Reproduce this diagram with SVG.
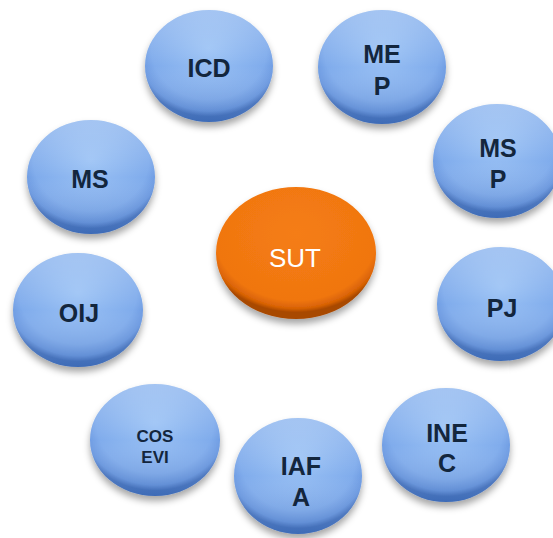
<svg xmlns="http://www.w3.org/2000/svg" width="553" height="538" viewBox="0 0 553 538">
<defs>
<radialGradient id="blue" cx="0.5" cy="0.35" r="0.6">
<stop offset="0" stop-color="#9cc3f5"/>
<stop offset="0.75" stop-color="#80acec"/>
<stop offset="0.92" stop-color="#6a98e0"/>
<stop offset="1" stop-color="#4a76c0"/>
</radialGradient>
<linearGradient id="blueLin" x1="0" y1="0" x2="0" y2="1">
<stop offset="0" stop-color="#ffffff" stop-opacity="0.25"/>
<stop offset="0.5" stop-color="#ffffff" stop-opacity="0"/>
<stop offset="1" stop-color="#1a4a9a" stop-opacity="0.25"/>
</linearGradient>
<radialGradient id="orange" cx="0.5" cy="0.35" r="0.6">
<stop offset="0" stop-color="#f57d14"/>
<stop offset="0.85" stop-color="#f07610"/>
<stop offset="0.95" stop-color="#d86205"/>
<stop offset="1" stop-color="#a84800"/>
</radialGradient>
<filter id="sh" x="-20%" y="-20%" width="140%" height="150%">
<feDropShadow dx="0" dy="5" stdDeviation="3.5" flood-color="#000" flood-opacity="0.35"/>
</filter>
</defs>
<style>
.b{fill:url(#blue);filter:url(#sh)}
.h{fill:url(#blueLin)}
.o{fill:url(#orange);filter:url(#sh)}
.t{font-family:"Liberation Sans",Arial,sans-serif;font-weight:bold;font-size:25px;fill:#13263d;text-anchor:middle}
.s{font-size:17px}
.w{font-family:"Liberation Sans",Arial,sans-serif;font-size:26px;fill:#ffffff;text-anchor:middle}
</style>
<rect width="553" height="538" fill="#ffffff"/>
<g id="connectors"></g>
<g id="ICD"><ellipse class="b" cx="209" cy="66" rx="64" ry="56"/><ellipse class="h" cx="209" cy="66" rx="64" ry="56"/><text class="t" x="209" y="77">ICD</text></g>
<g id="MEP"><ellipse class="b" cx="382" cy="67" rx="64" ry="57"/><ellipse class="h" cx="382" cy="67" rx="64" ry="57"/><text class="t" x="382" y="63">ME</text><text class="t" x="382" y="95">P</text></g>
<g id="MSP"><ellipse class="b" cx="497" cy="161" rx="64" ry="57"/><ellipse class="h" cx="497" cy="161" rx="64" ry="57"/><text class="t" x="498" y="157">MS</text><text class="t" x="498" y="188">P</text></g>
<g id="MS"><ellipse class="b" cx="91" cy="177" rx="64" ry="57"/><ellipse class="h" cx="91" cy="177" rx="64" ry="57"/><text class="t" x="90" y="188">MS</text></g>
<g id="SUT"><ellipse class="o" cx="296" cy="253" rx="80" ry="66"/><text class="w" x="295" y="267">SUT</text></g>
<g id="OIJ"><ellipse class="b" cx="78" cy="310" rx="65" ry="57"/><ellipse class="h" cx="78" cy="310" rx="65" ry="57"/><text class="t" x="79" y="322">OIJ</text></g>
<g id="PJ"><ellipse class="b" cx="501" cy="304" rx="64" ry="57"/><ellipse class="h" cx="501" cy="304" rx="64" ry="57"/><text class="t" x="502" y="317">PJ</text></g>
<g id="COSEVI"><ellipse class="b" cx="155" cy="440" rx="65" ry="56"/><ellipse class="h" cx="155" cy="440" rx="65" ry="56"/><text class="t s" x="155" y="442">COS</text><text class="t s" x="155" y="463">EVI</text></g>
<g id="IAFA"><ellipse class="b" cx="298" cy="476" rx="64" ry="58"/><ellipse class="h" cx="298" cy="476" rx="64" ry="58"/><text class="t" x="301" y="475">IAF</text><text class="t" x="301" y="506">A</text></g>
<g id="INEC"><ellipse class="b" cx="446" cy="445" rx="64" ry="57"/><ellipse class="h" cx="446" cy="445" rx="64" ry="57"/><text class="t" x="447" y="442">INE</text><text class="t" x="447" y="472">C</text></g>
</svg>
